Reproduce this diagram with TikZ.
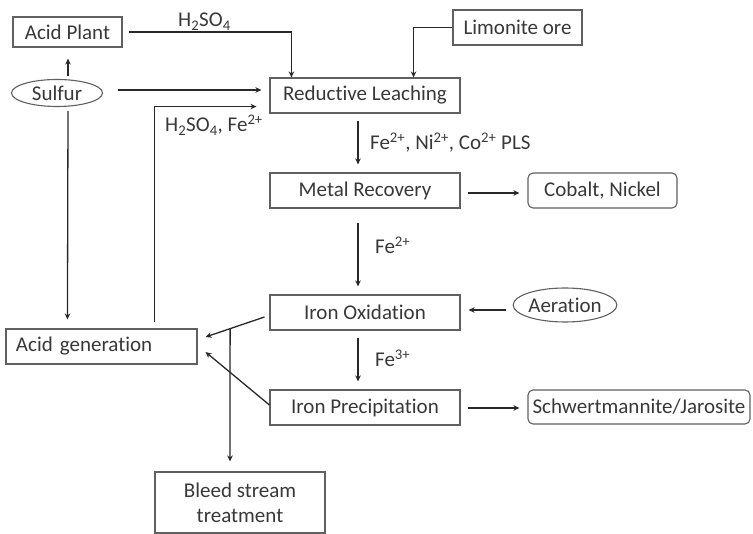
\documentclass[tikz,border=0pt]{standalone}
\usepackage{fontspec}
\setmainfont{Carlito}[Ligatures=NoCommon]
\usetikzlibrary{arrows.meta,calc,shapes.geometric}
\definecolor{txt}{HTML}{383838}
\definecolor{lncol}{HTML}{282828}
\definecolor{bx}{HTML}{606060}
\begin{document}
\begin{tikzpicture}[x=1pt,y=1pt,
 every node/.style={text=txt, font=\fontsize{21}{25}\selectfont},
 box/.style={draw=bx, line width=1.1pt, rectangle, inner sep=0pt, minimum height=35pt},
 rbox/.style={box, rounded corners=5pt},
 oval/.style={draw=bx, line width=1.1pt, ellipse, inner sep=0pt},
 arr/.style={draw=lncol, line width=1.3pt, -{Stealth[length=6pt,width=5.5pt]}},
 plain/.style={draw=lncol, line width=1.3pt}
]
\useasboundingbox (0,0) rectangle (753,-534);
% nodes
\node[box, minimum width=109pt, minimum height=30pt] (ap) at (67.5,-32) {Acid Plant};
\node[oval, minimum width=91pt, minimum height=27pt] (su) at (57,-93) {Sulfur};
\node[box, minimum width=190pt] (rl) at (365,-95.5) {Reductive Leaching};
\node[box, minimum width=129pt] (lo) at (517.5,-27.5) {Limonite ore};
\node[box, minimum width=190pt] (mr) at (365,-190.5) {Metal Recovery};
\node[rbox, minimum width=149pt] (cn) at (602.5,-190.5) {Cobalt, Nickel};
\node[box, minimum width=190pt] (io) at (365,-312.5) {Iron Oxidation};
\node[oval, minimum width=90pt, minimum height=34pt] (ae) at (565,-305) {Aeration};
\node[box, minimum width=190pt] (ip) at (365,-407.5) {Iron Precipitation};
\node[rbox, minimum width=222pt, minimum height=34pt] (sj) at (639,-407) {Schwertmannite/Jarosite};
\node[box, minimum width=191pt, text width=171pt, align=left] (ag) at (101.5,-346.5) {Acid generation};
\node[box, minimum width=170pt, minimum height=61pt, align=center] (bs) at (240,-502.5) {Bleed stream\\treatment};
% labels
\node[anchor=base west, inner sep=0pt] (l1) at (178,-27) {H\textsubscript{2}SO\textsubscript{4}};
\node[anchor=base west, inner sep=0pt] (l2) at (165,-132) {H\textsubscript{2}SO\textsubscript{4}, Fe\textsuperscript{2+}};
\node[anchor=base west, inner sep=0pt] (l3) at (370,-150) {Fe\textsuperscript{2+}, Ni\textsuperscript{2+}, Co\textsuperscript{2+} PLS};
\node[anchor=base west, inner sep=0pt] (l4) at (375,-254) {Fe\textsuperscript{2+}};
\node[anchor=base west, inner sep=0pt] (l5) at (375,-367) {Fe\textsuperscript{3+}};
% connectors
\draw[arr] ([xshift=6pt]ap.east) -| ($(rl.north west)+(22,0)$);
\draw[arr] (lo.west) -| ($(rl.north east)+(-47,0)$);
\draw[arr] ($(su.east)+(15,3)$) -- ($(rl.west)+(-8,5.5)$);
\draw[arr] ($(ap.south)+(0.5,-28)$) -- ($(ap.south)+(0.5,-11)$);
\draw[arr] ($(su.south)+(11,-4)$) -- ($(ag.north west)+(62,9)$);
\draw[arr] ($(ag.north west)+(149,6)$) |- ($(rl.south west)+(-13,7)$);
\draw[arr] ($(rl.south)+(-7,-7)$) -- ($(mr.north)+(-7,8)$);
\draw[arr] ($(mr.east)+(7,-2.5)$) -- ($(cn.west)+(-8,-2.5)$);
\draw[arr] ($(mr.south)+(-7,-14)$) -- ($(io.north)+(-7,8)$);
\draw[arr] ($(ae.west)+(-7,-5)$) -- ($(io.east)+(8,2.5)$);
\draw[arr] ($(io.south)+(-7,-7)$) -- ($(ip.north)+(-7,8)$);
\draw[arr] ($(ip.east)+(7,-0.5)$) -- ($(sj.west)+(-8,-1)$);
\coordinate (ioa) at ($(io.west)+(-5,-4.5)$);
\coordinate (aga) at ($(ag.east)+(8,9.5)$);
\draw[arr] (ioa) -- (aga);
\draw[arr] ($(ip.west)+(0,2.5)$) -- ($(ag.east)+(8,-5.5)$);
\coordinate (split) at ($(ioa)!0.583!(aga)$);
\draw[arr] (split) -- ($(bs.north)+(-10,10)$);
\coordinate (k1) at ($(bs.north)+(-9,-79)$);
\coordinate (k2) at ($(bs.north)+(-6,-92)$);
\draw[plain] (k2) -- (k1);
\end{tikzpicture}
\end{document}
